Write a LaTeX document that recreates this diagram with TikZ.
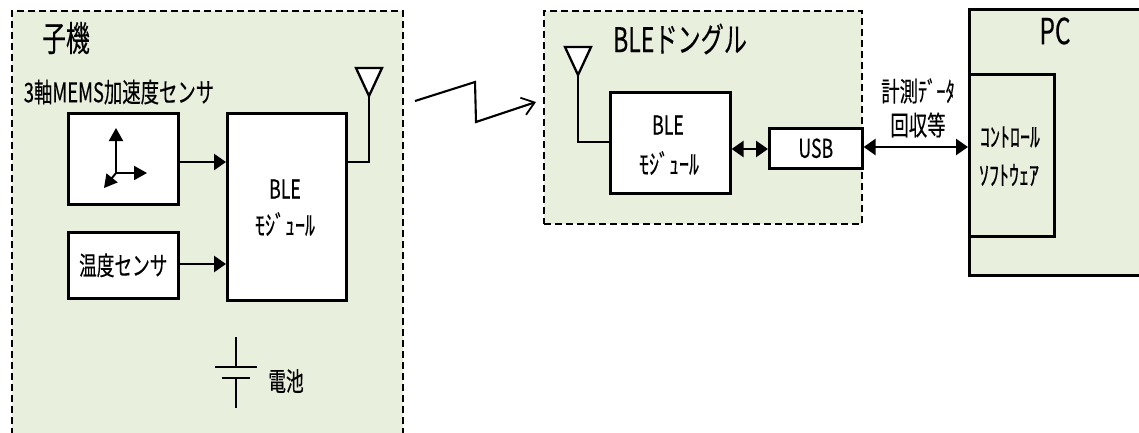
\documentclass[tikz,border=0pt]{standalone}
\usepackage{fontspec}
\newfontfamily\cjk[FakeStretch=0.68,FakeBold=0.3]{Noto Sans CJK JP}
\newfontfamily\cjkw[FakeStretch=0.74,FakeBold=0.3]{Noto Sans CJK JP}
\usetikzlibrary{arrows.meta,calc}
\definecolor{panel}{HTML}{E9EFDD}
\tikzset{
 x=1pt,y=-1pt,
 lab/.style={inner sep=0pt,font=\cjk,text=black},
 panelbox/.style={draw=black,fill=panel,line width=2pt,dash pattern=on 7pt off 4pt},
 block/.style={draw=black,fill=white,line width=2.6pt,inner sep=0pt,align=center,font=\cjk},
 wire/.style={draw=black,line width=2.6pt},
 sarrow/.style={wire,-{Triangle[length=12pt,width=16pt]}},
 darrow/.style={wire,{Triangle[length=12pt,width=16pt]}-{Triangle[length=12pt,width=16pt]}},
 ant/.style={draw=black,fill=white,line width=2.3pt,line join=miter},
}
\begin{document}
\begin{tikzpicture}
\useasboundingbox (0,0) rectangle (1139,432);
\clip (0,0) rectangle (1139,432);
% panels
\node[panelbox,anchor=north west,minimum width=391pt,minimum height=440pt,inner sep=0pt] (child) at (11,10) {};
\node[panelbox,anchor=north west,minimum width=318pt,minimum height=213pt,inner sep=0pt] (dongle) at (543,10) {};
\node[draw=black,fill=panel,line width=2.6pt,anchor=north west,minimum width=200pt,minimum height=266pt,inner sep=0pt] (pc) at (968,8) {};
\node[draw=black,fill=panel,line width=2.6pt,anchor=north west,minimum width=85pt,minimum height=162pt,inner sep=0pt] (soft) at (968,73) {};
% child blocks
\node[block,anchor=north west,minimum width=110pt,minimum height=91pt] (accel) at (67,112) {};
\node[block,anchor=north west,minimum width=110pt,minimum height=66pt,font=\cjk\fontsize{26}{28}\selectfont] (temp) at (67,231) {温度センサ};
\node[block,anchor=north west,minimum width=119pt,minimum height=187pt] (ble1) at (226,112) {};
% dongle blocks
\node[block,anchor=north west,minimum width=120pt,minimum height=101pt] (ble2) at (609,91) {};
\node[block,anchor=north west,minimum width=93pt,minimum height=40pt,font=\cjk\fontsize{26}{28}\selectfont] (usb) at (768,127) {USB};
% labels
\node[lab,font=\cjk\fontsize{35}{36}\selectfont] (t1) at (66,38) {子機};
\node[lab,font=\cjk\fontsize{27}{28}\selectfont] (t2) at (119,92) {3軸MEMS加速度センサ};
\node[lab,font=\cjk\fontsize{26}{28}\selectfont] (t3) at (285,189) {BLE};
\node[lab,font=\cjkw\fontsize{27}{28}\selectfont] (t4) at (285,224) {ﾓｼﾞｭｰﾙ};
\node[lab,font=\cjk\fontsize{26}{28}\selectfont] (t5) at (286,381) {電池};
\node[lab,font=\cjk\fontsize{34}{36}\selectfont] (t6) at (680,39) {BLEドングル};
\node[lab,font=\cjk\fontsize{26}{28}\selectfont] (t7) at (668,125) {BLE};
\node[lab,font=\cjkw\fontsize{27}{28}\selectfont] (t8) at (669,163) {ﾓｼﾞｭｰﾙ};
\node[lab,font=\cjk\fontsize{27}{28}\selectfont] (t9) at (918,91) {計測ﾃﾞｰﾀ};
\node[lab,font=\cjk\fontsize{27}{28}\selectfont] (t10) at (918,125) {回収等};
\node[lab,font=\cjk\fontsize{36}{38}\selectfont] (t11) at (1055,31) {PC};
\node[lab,font=\cjkw\fontsize{27}{28}\selectfont] (t12) at (1010,137) {ｺﾝﾄﾛｰﾙ};
\node[lab,font=\cjkw\fontsize{27}{28}\selectfont] (t13) at (1009,175) {ｿﾌﾄｳｪｱ};
% child connectors
\coordinate (a1) at (accel.east |- 0,162);
\coordinate (a2) at (ble1.west |- 0,162);
\coordinate (b1) at (temp.east |- 0,264);
\coordinate (b2) at (ble1.west |- 0,264);
\draw[sarrow] (a1) -- (a2);
\draw[sarrow] (b1) -- (b2);
% child antenna
\coordinate (ant1) at (369,96);
\coordinate (ant1a) at (356,68);
\coordinate (ant1b) at (382,68);
\draw[wire,line join=miter] (a2 -| ble1.east) -| (ant1);
\draw[ant] (ant1) -- (ant1a) -- (ant1b) -- cycle;
% axes
\coordinate (o) at (116,173);
\coordinate (ox) at (147,173);
\coordinate (oy) at (116,128);
\coordinate (oz) at (104,188);
\draw[wire,-{Triangle[length=13pt,width=14pt]},line width=2pt] (o) -- (ox);
\draw[wire,-{Triangle[length=13pt,width=14pt]},line width=2pt] (o) -- (oy);
\draw[wire,-{Triangle[length=13pt,width=14pt]},line width=2pt] (o) -- (oz);
% battery
\coordinate (bt1) at (236,337);
\coordinate (bt2) at (236,367);
\coordinate (bt3) at (236,378);
\coordinate (bt4) at (236,408);
\draw[wire,line width=1.9pt] (bt1) -- (bt2);
\draw[wire,line width=1.9pt] (bt3) -- (bt4);
\draw[wire,line width=2.3pt] ($(bt2)+(-21,0)$) -- ($(bt2)+(21,0)$);
\draw[wire,line width=2.3pt] ($(bt3)+(-14,0)$) -- ($(bt3)+(14,0)$);
% wireless link
\coordinate (z1) at (415,101);
\coordinate (z2) at (475,82);
\coordinate (z3) at (476,122);
\coordinate (z4) at (536,102);
\draw[black,line width=2.1pt,line join=miter,-{Straight Barb[length=12pt,width=18pt,line width=1.8pt]}] (z1) -- (z2) -- (z3) -- (z4);
% dongle antenna
\coordinate (ant2) at (578,75);
\coordinate (ant2a) at (565,47);
\coordinate (ant2b) at (591,47);
\coordinate (ant2c) at (578,142);
\draw[wire,line join=miter] (ant2) -- (ant2c) -- (ant2c -| ble2.west);
\draw[ant] (ant2) -- (ant2a) -- (ant2b) -- cycle;
% double arrows
\coordinate (d1) at (ble2.east |- 0,149);
\coordinate (d2) at (usb.west |- 0,149);
\draw[darrow] (d1) -- (d2);
\coordinate (e1) at (usb.east |- 0,147);
\coordinate (e2) at (soft.west |- 0,147);
\draw[darrow] (e1) -- (e2);
\end{tikzpicture}
\end{document}
